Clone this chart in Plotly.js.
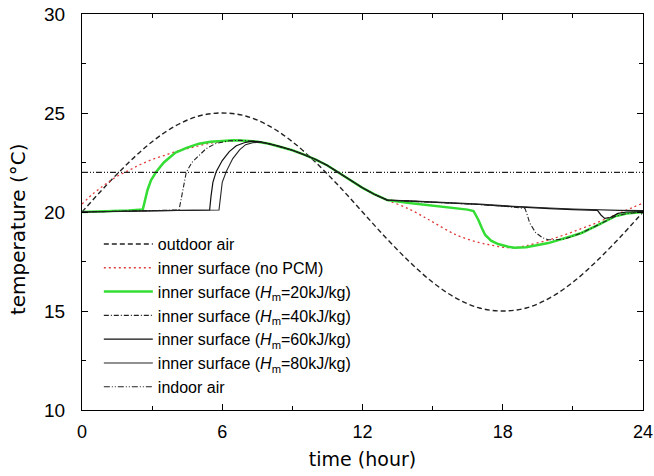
<!DOCTYPE html>
<html>
<head>
<meta charset="utf-8">
<script src="https://cdn.plot.ly/plotly-3.0.1.min.js"></script>
<style>html,body{margin:0;padding:0;background:#fff;}#chart{width:654px;height:476px;}</style>
</head>
<body>
<div id="chart"></div>
<script>
// time (hour) and temperature (°C) values
const outdoorT = [0,1,2,3,4,5,6,7,8,9,10,11,12,13,14,15,16,17,18,19,20,21,22,23,24];
const outdoorV = [20,21.3,22.5,23.55,24.35,24.85,25,24.85,24.35,23.55,22.5,21.3,20,18.7,17.5,16.45,15.65,15.15,15,15.15,15.65,16.45,17.5,18.7,20];

const noPcmT = [0,0.5,1,1.5,2,2.5,3,3.5,4,4.5,5,5.5,6,6.5,7,7.5,8,8.5,9,9.5,10,10.5,11,11.5,12,12.5,13.06,14,14.7,15,16,17,17.5,18,18.5,19,20,21,22,23,24];
const noPcmV = [20.4,20.95,21.4,21.8,22.1,22.4,22.65,22.85,23.05,23.2,23.35,23.48,23.56,23.6,23.6,23.55,23.45,23.3,23.12,22.9,22.65,22.35,21.97,21.6,21.22,20.9,20.6,20.15,19.7,19.5,18.85,18.45,18.33,18.22,18.2,18.3,18.6,19.0,19.45,19.95,20.45];

const hm20T = [0,1,2,2.6,2.7,2.8,2.95,3.18,3.5,4,4.5,5,5.5,6,6.5,7,7.5,8,8.5,9,9.5,10,10.5,11,11.5,12,12.5,13.06,14,14.7,15.5,16,16.5,16.75,16.85,16.96,17.1,17.25,17.5,17.8,18.24,18.5,19,19.95,21,21.37,22,22.8,23.3,24];
const hm20V = [20.0,20.03,20.07,20.12,20.6,21.1,21.6,22.04,22.5,23.0,23.25,23.45,23.55,23.6,23.62,23.6,23.55,23.45,23.3,23.12,22.9,22.65,22.35,21.97,21.6,21.22,20.9,20.6,20.45,20.35,20.25,20.2,20.12,20.05,19.85,19.6,19.2,18.84,18.55,18.38,18.25,18.2,18.22,18.43,18.8,18.94,19.3,19.78,19.92,20.0];

const hm40T = [0,2,4.15,4.25,4.35,4.46,4.7,5,5.31,5.7,6.3,6.8,7.5,8,8.5,9,9.5,10,10.5,11,11.5,12,12.5,13.06,14,15,16,17,18,18.95,19.05,19.15,19.4,19.7,19.95,20.3,20.66,21,21.37,22,22.8,23.3,24];
const hm40V = [20.0,20.05,20.1,20.7,21.4,22.0,22.5,22.85,23.2,23.45,23.6,23.62,23.55,23.45,23.3,23.12,22.9,22.65,22.35,21.97,21.6,21.22,20.9,20.6,20.55,20.5,20.45,20.38,20.3,20.18,19.85,19.45,18.97,18.7,18.6,18.6,18.64,18.8,18.94,19.3,19.78,19.92,20.0];

const hm60T = [0,2,4,5.46,5.52,5.6,5.74,6,6.3,6.6,7,7.3,7.6,8,8.5,9,9.5,10,10.5,11,11.5,12,12.5,13.06,14,15,16,17,18,19,20,21,22.05,22.2,22.36,22.6,22.93,23.3,24];
const hm60V = [20.0,20.05,20.08,20.1,20.8,21.5,22.04,22.6,23.05,23.35,23.52,23.58,23.55,23.45,23.3,23.12,22.9,22.65,22.35,21.97,21.6,21.22,20.9,20.6,20.55,20.5,20.45,20.38,20.3,20.22,20.17,20.12,20.08,19.85,19.68,19.72,19.93,20.0,20.02];

const hm80T = [0,2,4,5.86,5.92,6.0,6.17,6.45,6.75,7,7.3,7.6,8,8.5,9,9.5,10,10.5,11,11.5,12,12.5,13.06,14,15,16,17,18,19,20,21,22,23,24];
const hm80V = [20.0,20.05,20.08,20.1,20.8,21.5,22.04,22.7,23.15,23.4,23.5,23.53,23.45,23.3,23.12,22.9,22.65,22.35,21.97,21.6,21.22,20.9,20.6,20.57,20.52,20.47,20.4,20.32,20.25,20.2,20.15,20.11,20.08,20.07];

const indoorT = [0,24];
const indoorV = [22,22];

const names = [
  'outdoor air',
  'inner surface (no PCM)',
  'inner surface (<i>H</i><sub>m</sub>=20kJ/kg)',
  'inner surface (<i>H</i><sub>m</sub>=40kJ/kg)',
  'inner surface (<i>H</i><sub>m</sub>=60kJ/kg)',
  'inner surface (<i>H</i><sub>m</sub>=80kJ/kg)',
  'indoor air'
];
const xTicks = [0,6,12,18,24];
const yTicks = [10,15,20,25,30];

const traces = [
  {x: outdoorT, y: outdoorV, name: names[0], mode: 'lines', line: {color: '#222', width: 1.4, dash: '5px,3px', shape: 'spline'}},
  {x: noPcmT, y: noPcmV, name: names[1], mode: 'lines', line: {color: '#e03a3a', width: 1.3, dash: '2px,3px', shape: 'spline'}},
  {x: hm20T, y: hm20V, name: names[2], mode: 'lines', line: {color: '#33dd33', width: 2.5}},
  {x: hm40T, y: hm40V, name: names[3], mode: 'lines', line: {color: '#222', width: 1.1, dash: '5px,2px,1px,2px'}},
  {x: hm60T, y: hm60V, name: names[4], mode: 'lines', line: {color: '#111', width: 1.2}},
  {x: hm80T, y: hm80V, name: names[5], mode: 'lines', line: {color: '#222', width: 1.1}},
  {x: indoorT, y: indoorV, name: names[6], mode: 'lines', line: {color: '#222', width: 1.1, dash: '6px,2px,1px,2px,1px,2px'}}
];

const font = 'Liberation Sans, Arial, sans-serif';
const layout = {
  width: 654, height: 476,
  margin: {l: 82, r: 11, t: 14, b: 66},
  paper_bgcolor: '#fff', plot_bgcolor: '#fff',
  font: {family: font, color: '#000'},
  showlegend: true,
  legend: {x: 0.03, y: 0.462, xanchor: 'left', yanchor: 'top', bgcolor: 'rgba(0,0,0,0)', font: {size: 16, family: font}, tracegroupgap: 0, itemwidth: 49},
  xaxis: {
    range: [0, 24], tickvals: xTicks, ticktext: xTicks.map(String),
    ticks: 'inside', ticklen: 6, tickcolor: '#000', showline: true, linecolor: '#000', linewidth: 1, mirror: 'ticks',
    showgrid: false, zeroline: false, tickfont: {size: 18}, ticklabelstandoff: 5, ticklabeloverflow: 'allow',
    minor: {dtick: 3, ticks: 'inside', ticklen: 4, tickcolor: '#000', showgrid: false},
    title: {text: 'time (hour)', font: {size: 19, family: 'DejaVu Sans, sans-serif'}, standoff: 12}
  },
  yaxis: {
    range: [10, 30], tickvals: yTicks, ticktext: yTicks.map(String),
    ticks: 'inside', ticklen: 6, tickcolor: '#000', showline: true, linecolor: '#000', linewidth: 1, mirror: 'ticks',
    showgrid: false, zeroline: false, tickfont: {size: 19}, ticklabelstandoff: 12,
    minor: {dtick: 2.5, ticks: 'inside', ticklen: 4, tickcolor: '#000', showgrid: false}
  },
  annotations: [{
    text: 'temperature (\u00B0C)', xref: 'paper', yref: 'paper', x: -0.114, y: 0.457,
    xanchor: 'center', yanchor: 'middle', textangle: -90, showarrow: false,
    font: {size: 20, family: 'DejaVu Sans, sans-serif', color: '#000'}
  }]
};

Plotly.newPlot('chart', traces, layout, {displayModeBar: false, staticPlot: true});
</script>
</body>
</html>
